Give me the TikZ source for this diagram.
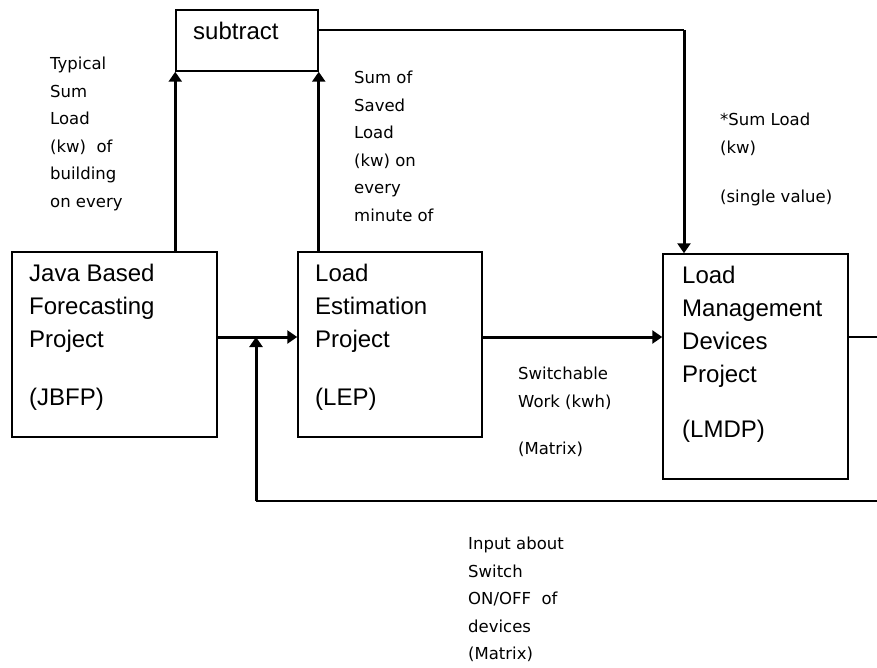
\documentclass[tikz,border=0pt]{standalone}
\usepackage{fontspec}
\setmainfont{Liberation Sans}
\newfontfamily\labelfont{DejaVu Sans}
\usetikzlibrary{arrows.meta}

\begin{document}
\begin{tikzpicture}[x=1pt,y=-1pt]
				\tikzstyle{every node}+=[inner sep=0pt]
				\tikzstyle{box}=[draw, line width=1.5pt]
				\tikzstyle{boxtext}=[align=left, anchor=north west, font=\fontsize{24}{33}\selectfont]
				\tikzstyle{note}=[align=left, anchor=north west, font=\labelfont\fontsize{16.5}{27.5}\selectfont]
				\tikzstyle{flow}=[line width=3pt, -{Triangle[width=13pt,length=10pt]}]
				\tikzstyle{wire}=[line width=1.8pt]
				\useasboundingbox (0,0) rectangle (877,668);
				\node [box, minimum width=142, minimum height=61] (subtract) at (247,40.5) {};
				\node [anchor=west, font=\fontsize{24}{33}\selectfont] (subtracttxt) at (193,31) {subtract};
				\node [box, minimum width=205, minimum height=185] (jbfp) at (114.5,344.5) {};
				\node [boxtext] (jbfptxt) at (29,264) {Java Based\\Forecasting\\Project\\[25pt](JBFP)};
				\node [box, minimum width=184, minimum height=185] (lep) at (390,344.5) {};
				\node [boxtext] (leptxt) at (315,264) {Load\\Estimation\\Project\\[25pt](LEP)};
				\node [box, minimum width=185, minimum height=225] (lmdp) at (755.5,366.5) {};
				\node [boxtext] (lmdptxt) at (682,266) {Load\\Management\\Devices\\Project\\[22pt](LMDP)};
				\node [note] (typical) at (50,57) {Typical\\Sum\\Load\\(kw)~ of\\building\\on every};
				\node [note] (saved) at (354,71) {Sum of\\Saved\\Load\\(kw) on\\every\\minute of};
				\node [note] (sumload) at (720,113) {*Sum Load\\(kw)\\[22pt](single value)};
				\node [note] (switchable) at (518,367) {Switchable\\Work (kwh)\\[20pt](Matrix)};
				\node [note] (inputnote) at (468,537) {Input about\\Switch\\ON/OFF~ of\\devices\\(Matrix)};
				\coordinate (join) at (256,337);
				\coordinate (corner) at (684,30);
				\coordinate (fb) at (256,501);
				\coordinate (fbend) at (877,501);
				\coordinate (out) at (877,337);
				\draw [flow] (subtract.south west |- jbfp.north) -- (subtract.south west);
				\draw [flow] (subtract.south east |- lep.north) -- (subtract.south east);
				\draw [wire] (subtract.east |- corner) -- (corner);
				\draw [flow] (corner) -- (corner |- lmdp.north);
				\draw [flow] (jbfp.east |- join) -- (lep.west |- join);
				\draw [flow] (lep.east |- join) -- (lmdp.west |- join);
				\draw [wire] (lmdp.east |- join) -- (out);
				\draw [wire] (fbend) -- (fb);
				\draw [flow] (fb) -- (join);
\end{tikzpicture}
\end{document}
